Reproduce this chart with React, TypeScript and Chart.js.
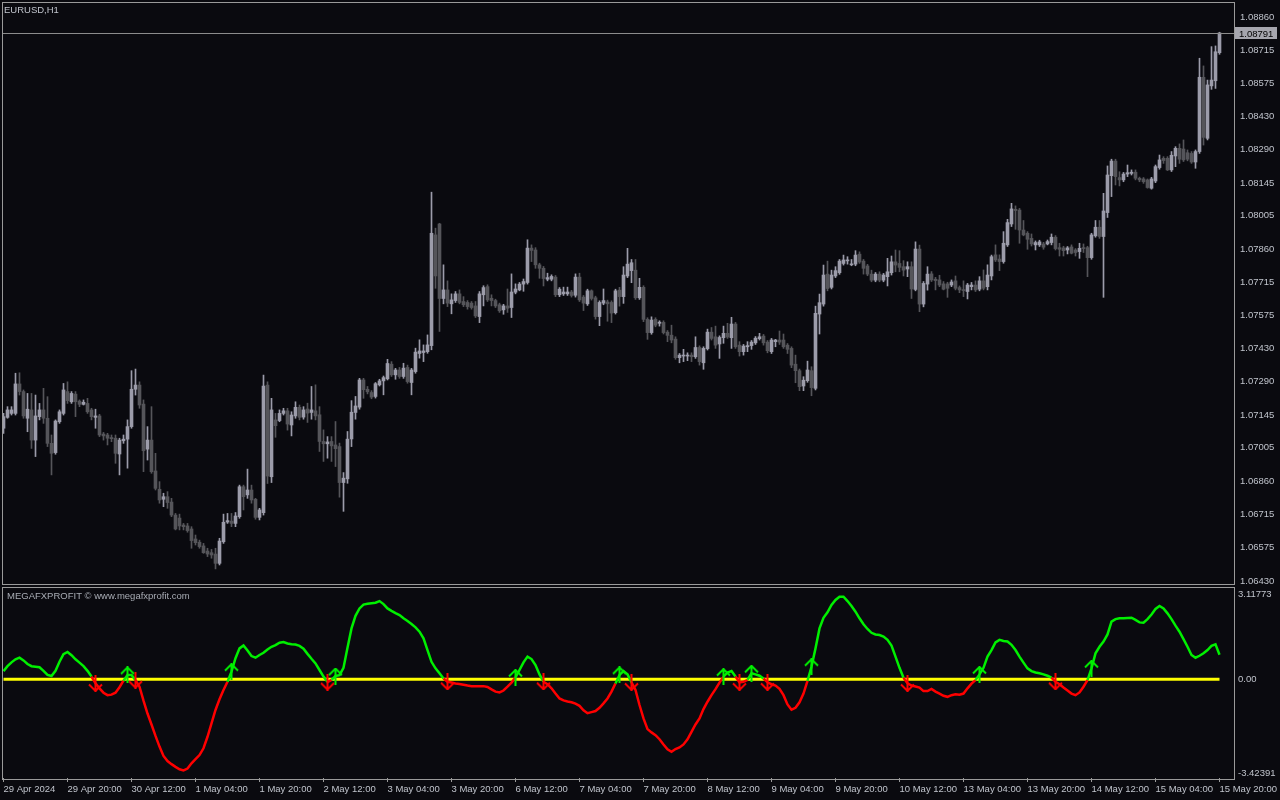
import React, { useEffect, useRef } from 'react';
import { Chart, registerables } from 'chart.js';

Chart.register(...registerables);

const BG = '#0a0a0f';
const FRAME = '#9a9a9a';
const TEXT = '#c0c4cc';
const TITLE2 = '#a8acb4';
const BULL = '#9c9caa';
const BEAR = '#55555a';
const OSC_UP = '#00f000';
const OSC_DOWN = '#ff0000';
const ZERO_COLOR = '#ffff00';
const FONT = '"Liberation Sans", Arial, sans-serif';

const symbolTitle = 'EURUSD,H1';
const indicatorTitle = 'MEGAFXPROFIT \u00a9 www.megafxprofit.com';

// ---- EURUSD H1 candles (bar 0 = 29 Apr 04:00 ... bar 304 = 15 May 20:00) ----
const openPrices = [
  1.07088, 1.07135, 1.07152, 1.07152, 1.07279, 1.07246, 1.07131, 1.07167, 1.07037, 1.07138,
  1.07167, 1.07131, 1.07023, 1.06983, 1.07116, 1.07152, 1.07246, 1.07202, 1.07235, 1.07205,
  1.07191, 1.07195, 1.07167, 1.07135, 1.07141, 1.07063, 1.07059, 1.07048, 1.07045, 1.06977,
  1.07034, 1.07041, 1.07095, 1.07256, 1.07274, 1.07192, 1.06998, 1.07037, 1.06904, 1.06825,
  1.06782, 1.06793, 1.06770, 1.06714, 1.06701, 1.06671, 1.06667, 1.06654, 1.06611, 1.06597,
  1.06581, 1.06559, 1.06552, 1.06546, 1.06506, 1.06599, 1.06684, 1.06688, 1.06678, 1.06707,
  1.06836, 1.06801, 1.06822, 1.06782, 1.06704, 1.06724, 1.07274, 1.06879, 1.07124, 1.07121,
  1.07152, 1.07163, 1.07102, 1.07141, 1.07178, 1.07136, 1.07171, 1.07156, 1.07163, 1.07146,
  1.07031, 1.07021, 1.07031, 1.07016, 1.07009, 1.06854, 1.06870, 1.07042, 1.07156, 1.07179,
  1.07296, 1.07256, 1.07242, 1.07225, 1.07275, 1.07292, 1.07301, 1.07364, 1.07318, 1.07339,
  1.07311, 1.07350, 1.07285, 1.07332, 1.07410, 1.07414, 1.07418, 1.07444, 1.07921, 1.07968,
  1.07647, 1.07684, 1.07624, 1.07638, 1.07667, 1.07634, 1.07630, 1.07627, 1.07615, 1.07569,
  1.07663, 1.07698, 1.07648, 1.07638, 1.07620, 1.07598, 1.07615, 1.07608, 1.07674, 1.07684,
  1.07709, 1.07716, 1.07864, 1.07856, 1.07792, 1.07777, 1.07730, 1.07730, 1.07739, 1.07663,
  1.07667, 1.07667, 1.07675, 1.07661, 1.07739, 1.07653, 1.07624, 1.07680, 1.07650, 1.07569,
  1.07627, 1.07632, 1.07630, 1.07586, 1.07683, 1.07655, 1.07744, 1.07767, 1.07769, 1.07650,
  1.07695, 1.07557, 1.07500, 1.07557, 1.07540, 1.07544, 1.07502, 1.07489, 1.07472, 1.07392,
  1.07399, 1.07399, 1.07403, 1.07396, 1.07436, 1.07370, 1.07431, 1.07502, 1.07482, 1.07451,
  1.07478, 1.07497, 1.07478, 1.07537, 1.07446, 1.07418, 1.07439, 1.07444, 1.07456, 1.07474,
  1.07485, 1.07459, 1.07418, 1.07461, 1.07468, 1.07468, 1.07446, 1.07432, 1.07364, 1.07336,
  1.07270, 1.07293, 1.07336, 1.07260, 1.07580, 1.07623, 1.07752, 1.07695, 1.07744, 1.07758,
  1.07798, 1.07809, 1.07792, 1.07795, 1.07838, 1.07808, 1.07787, 1.07752, 1.07726, 1.07752,
  1.07726, 1.07741, 1.07758, 1.07805, 1.07798, 1.07784, 1.07774, 1.07784, 1.07686, 1.07860,
  1.07623, 1.07709, 1.07753, 1.07730, 1.07727, 1.07710, 1.07710, 1.07705, 1.07723, 1.07694,
  1.07684, 1.07677, 1.07698, 1.07705, 1.07687, 1.07723, 1.07698, 1.07744, 1.07835, 1.07817,
  1.07806, 1.07878, 1.07968, 1.08031, 1.08028, 1.07942, 1.07928, 1.07906, 1.07878, 1.07878,
  1.07882, 1.07882, 1.07888, 1.07911, 1.07866, 1.07865, 1.07856, 1.07869, 1.07856, 1.07849,
  1.07866, 1.07866, 1.07823, 1.07917, 1.07954, 1.07914, 1.08017, 1.08176, 1.08239, 1.08168,
  1.08158, 1.08183, 1.08186, 1.08191, 1.08165, 1.08162, 1.08158, 1.08122, 1.08153, 1.08211,
  1.08251, 1.08251, 1.08201, 1.08261, 1.08294, 1.08291, 1.08275, 1.08272, 1.08235, 1.08280,
  1.08600, 1.08337, 1.08563, 1.08585, 1.08706,
];

const highPrices = [
  1.07152, 1.07181, 1.07181, 1.07325, 1.07327, 1.07253, 1.07238, 1.07238, 1.07231, 1.07195,
  1.07260, 1.07224, 1.07059, 1.07124, 1.07167, 1.07281, 1.07288, 1.07246, 1.07246, 1.07210,
  1.07210, 1.07217, 1.07174, 1.07170, 1.07148, 1.07070, 1.07066, 1.07059, 1.07059, 1.07045,
  1.07059, 1.07124, 1.07336, 1.07343, 1.07288, 1.07210, 1.07095, 1.07181, 1.06980, 1.06858,
  1.06808, 1.06815, 1.06786, 1.06721, 1.06718, 1.06678, 1.06678, 1.06664, 1.06628, 1.06606,
  1.06592, 1.06571, 1.06566, 1.06571, 1.06614, 1.06718, 1.06721, 1.06721, 1.06725, 1.06843,
  1.06843, 1.06912, 1.06843, 1.06786, 1.06743, 1.07317, 1.07288, 1.07217, 1.07152, 1.07167,
  1.07174, 1.07174, 1.07159, 1.07202, 1.07188, 1.07181, 1.07196, 1.07268, 1.07275, 1.07181,
  1.07081, 1.07052, 1.07052, 1.07117, 1.07024, 1.06897, 1.07074, 1.07207, 1.07225, 1.07303,
  1.07303, 1.07268, 1.07250, 1.07285, 1.07299, 1.07313, 1.07385, 1.07375, 1.07346, 1.07350,
  1.07368, 1.07360, 1.07346, 1.07433, 1.07469, 1.07447, 1.07490, 1.08105, 1.07950, 1.07971,
  1.07792, 1.07723, 1.07667, 1.07677, 1.07684, 1.07655, 1.07638, 1.07634, 1.07634, 1.07677,
  1.07702, 1.07706, 1.07663, 1.07644, 1.07627, 1.07622, 1.07688, 1.07753, 1.07710, 1.07716,
  1.07731, 1.07900, 1.07878, 1.07866, 1.07799, 1.07785, 1.07756, 1.07749, 1.07746, 1.07694,
  1.07696, 1.07696, 1.07682, 1.07753, 1.07756, 1.07660, 1.07687, 1.07684, 1.07657, 1.07637,
  1.07688, 1.07640, 1.07637, 1.07687, 1.07695, 1.07784, 1.07863, 1.07815, 1.07815, 1.07734,
  1.07702, 1.07564, 1.07568, 1.07564, 1.07551, 1.07551, 1.07509, 1.07532, 1.07482, 1.07410,
  1.07428, 1.07413, 1.07413, 1.07482, 1.07443, 1.07439, 1.07515, 1.07522, 1.07528, 1.07486,
  1.07528, 1.07540, 1.07566, 1.07544, 1.07461, 1.07449, 1.07461, 1.07466, 1.07483, 1.07497,
  1.07492, 1.07466, 1.07475, 1.07471, 1.07507, 1.07494, 1.07453, 1.07439, 1.07403, 1.07343,
  1.07310, 1.07377, 1.07353, 1.07614, 1.07666, 1.07791, 1.07808, 1.07769, 1.07784, 1.07815,
  1.07834, 1.07827, 1.07815, 1.07853, 1.07848, 1.07815, 1.07794, 1.07769, 1.07759, 1.07762,
  1.07755, 1.07820, 1.07830, 1.07856, 1.07853, 1.07810, 1.07805, 1.07805, 1.07891, 1.07877,
  1.07720, 1.07784, 1.07763, 1.07738, 1.07747, 1.07720, 1.07717, 1.07727, 1.07744, 1.07701,
  1.07723, 1.07712, 1.07716, 1.07723, 1.07741, 1.07770, 1.07792, 1.07834, 1.07878, 1.07835,
  1.07935, 1.07988, 1.08057, 1.08046, 1.08035, 1.07983, 1.07935, 1.07925, 1.07895, 1.07898,
  1.07889, 1.07899, 1.07925, 1.07918, 1.07885, 1.07872, 1.07871, 1.07878, 1.07862, 1.07885,
  1.07882, 1.07872, 1.07928, 1.07983, 1.07983, 1.08100, 1.08218, 1.08247, 1.08247, 1.08193,
  1.08190, 1.08222, 1.08201, 1.08201, 1.08170, 1.08168, 1.08162, 1.08169, 1.08222, 1.08265,
  1.08258, 1.08258, 1.08280, 1.08301, 1.08313, 1.08330, 1.08287, 1.08280, 1.08287, 1.08682,
  1.08649, 1.08588, 1.08732, 1.08735, 1.08794,
];

const lowPrices = [
  1.07066, 1.07131, 1.07145, 1.07145, 1.07231, 1.07131, 1.07073, 1.07001, 1.06966, 1.07124,
  1.07109, 1.07009, 1.06887, 1.06976, 1.07109, 1.07145, 1.07195, 1.07195, 1.07138, 1.07181,
  1.07188, 1.07152, 1.07124, 1.07088, 1.07052, 1.07037, 1.07016, 1.07030, 1.06937, 1.06887,
  1.07023, 1.06916, 1.07088, 1.07231, 1.07174, 1.06901, 1.06951, 1.06894, 1.06822, 1.06765,
  1.06750, 1.06743, 1.06707, 1.06650, 1.06650, 1.06650, 1.06640, 1.06571, 1.06585, 1.06571,
  1.06549, 1.06535, 1.06528, 1.06482, 1.06499, 1.06592, 1.06678, 1.06664, 1.06664, 1.06700,
  1.06736, 1.06786, 1.06765, 1.06696, 1.06693, 1.06714, 1.06850, 1.06854, 1.07049, 1.07116,
  1.07145, 1.07080, 1.07055, 1.07131, 1.07124, 1.07127, 1.07113, 1.07127, 1.07124, 1.06988,
  1.06945, 1.06959, 1.06945, 1.06923, 1.06791, 1.06730, 1.06851, 1.07009, 1.07127, 1.07170,
  1.07217, 1.07236, 1.07215, 1.07218, 1.07270, 1.07232, 1.07296, 1.07311, 1.07299, 1.07303,
  1.07303, 1.07282, 1.07232, 1.07325, 1.07390, 1.07375, 1.07411, 1.07426, 1.07691, 1.07505,
  1.07624, 1.07612, 1.07581, 1.07630, 1.07624, 1.07612, 1.07601, 1.07601, 1.07565, 1.07543,
  1.07615, 1.07634, 1.07615, 1.07608, 1.07587, 1.07579, 1.07587, 1.07565, 1.07667, 1.07680,
  1.07678, 1.07709, 1.07806, 1.07777, 1.07734, 1.07701, 1.07723, 1.07723, 1.07655, 1.07655,
  1.07660, 1.07660, 1.07653, 1.07653, 1.07634, 1.07595, 1.07617, 1.07640, 1.07558, 1.07530,
  1.07620, 1.07549, 1.07543, 1.07580, 1.07614, 1.07626, 1.07737, 1.07715, 1.07643, 1.07643,
  1.07547, 1.07471, 1.07493, 1.07525, 1.07528, 1.07494, 1.07461, 1.07456, 1.07385, 1.07370,
  1.07375, 1.07379, 1.07375, 1.07389, 1.07360, 1.07342, 1.07425, 1.07468, 1.07432, 1.07389,
  1.07454, 1.07475, 1.07432, 1.07432, 1.07399, 1.07403, 1.07418, 1.07428, 1.07449, 1.07468,
  1.07446, 1.07413, 1.07410, 1.07439, 1.07449, 1.07432, 1.07410, 1.07349, 1.07284, 1.07250,
  1.07250, 1.07286, 1.07228, 1.07253, 1.07494, 1.07614, 1.07680, 1.07688, 1.07737, 1.07751,
  1.07791, 1.07795, 1.07788, 1.07788, 1.07798, 1.07752, 1.07745, 1.07719, 1.07719, 1.07719,
  1.07719, 1.07701, 1.07748, 1.07762, 1.07762, 1.07744, 1.07741, 1.07647, 1.07680, 1.07590,
  1.07611, 1.07683, 1.07720, 1.07684, 1.07698, 1.07684, 1.07652, 1.07698, 1.07684, 1.07672,
  1.07655, 1.07645, 1.07684, 1.07677, 1.07680, 1.07684, 1.07684, 1.07727, 1.07806, 1.07767,
  1.07799, 1.07871, 1.07957, 1.07945, 1.07885, 1.07917, 1.07859, 1.07873, 1.07856, 1.07871,
  1.07859, 1.07878, 1.07878, 1.07856, 1.07830, 1.07830, 1.07839, 1.07839, 1.07830, 1.07820,
  1.07845, 1.07741, 1.07816, 1.07911, 1.07906, 1.07652, 1.07996, 1.08086, 1.08136, 1.08132,
  1.08150, 1.08172, 1.08179, 1.08158, 1.08150, 1.08143, 1.08122, 1.08118, 1.08146, 1.08204,
  1.08229, 1.08198, 1.08194, 1.08215, 1.08229, 1.08237, 1.08240, 1.08229, 1.08208, 1.08272,
  1.08308, 1.08330, 1.08548, 1.08552, 1.08699,
];

const closePrices = [
  1.07138, 1.07167, 1.07167, 1.07279, 1.07246, 1.07141, 1.07170, 1.07037, 1.07141, 1.07167,
  1.07131, 1.07023, 1.06980, 1.07119, 1.07159, 1.07253, 1.07207, 1.07238, 1.07202, 1.07191,
  1.07200, 1.07159, 1.07138, 1.07141, 1.07059, 1.07055, 1.07045, 1.07043, 1.06980, 1.07037,
  1.07041, 1.07095, 1.07256, 1.07274, 1.07188, 1.06991, 1.07037, 1.06901, 1.06829, 1.06779,
  1.06793, 1.06768, 1.06714, 1.06654, 1.06667, 1.06664, 1.06647, 1.06604, 1.06595, 1.06578,
  1.06552, 1.06546, 1.06542, 1.06506, 1.06602, 1.06683, 1.06690, 1.06678, 1.06710, 1.06836,
  1.06793, 1.06822, 1.06779, 1.06704, 1.06736, 1.07270, 1.06882, 1.07167, 1.07099, 1.07152,
  1.07163, 1.07106, 1.07145, 1.07178, 1.07135, 1.07167, 1.07153, 1.07167, 1.07141, 1.07031,
  1.07021, 1.07029, 1.07012, 1.07000, 1.06854, 1.06873, 1.07041, 1.07157, 1.07184, 1.07296,
  1.07254, 1.07245, 1.07222, 1.07280, 1.07292, 1.07306, 1.07367, 1.07318, 1.07339, 1.07311,
  1.07347, 1.07289, 1.07339, 1.07416, 1.07421, 1.07421, 1.07447, 1.07928, 1.07744, 1.07647,
  1.07684, 1.07627, 1.07641, 1.07667, 1.07630, 1.07620, 1.07612, 1.07608, 1.07572, 1.07667,
  1.07694, 1.07641, 1.07638, 1.07615, 1.07594, 1.07615, 1.07605, 1.07675, 1.07688, 1.07709,
  1.07720, 1.07864, 1.07854, 1.07792, 1.07777, 1.07733, 1.07737, 1.07742, 1.07663, 1.07687,
  1.07675, 1.07675, 1.07660, 1.07739, 1.07641, 1.07627, 1.07680, 1.07647, 1.07569, 1.07630,
  1.07638, 1.07624, 1.07584, 1.07680, 1.07655, 1.07748, 1.07795, 1.07801, 1.07650, 1.07695,
  1.07557, 1.07500, 1.07554, 1.07532, 1.07545, 1.07500, 1.07488, 1.07468, 1.07392, 1.07403,
  1.07403, 1.07403, 1.07396, 1.07436, 1.07375, 1.07432, 1.07502, 1.07475, 1.07446, 1.07479,
  1.07497, 1.07481, 1.07537, 1.07439, 1.07418, 1.07442, 1.07444, 1.07459, 1.07476, 1.07482,
  1.07456, 1.07422, 1.07468, 1.07468, 1.07459, 1.07439, 1.07428, 1.07360, 1.07336, 1.07267,
  1.07295, 1.07339, 1.07263, 1.07583, 1.07629, 1.07748, 1.07690, 1.07748, 1.07767, 1.07808,
  1.07813, 1.07813, 1.07795, 1.07834, 1.07804, 1.07777, 1.07752, 1.07726, 1.07752, 1.07726,
  1.07748, 1.07762, 1.07805, 1.07791, 1.07781, 1.07769, 1.07784, 1.07688, 1.07860, 1.07623,
  1.07712, 1.07752, 1.07727, 1.07724, 1.07705, 1.07687, 1.07691, 1.07718, 1.07691, 1.07684,
  1.07681, 1.07705, 1.07705, 1.07684, 1.07723, 1.07691, 1.07748, 1.07827, 1.07813, 1.07806,
  1.07885, 1.07974, 1.08033, 1.08026, 1.07942, 1.07921, 1.07902, 1.07882, 1.07888, 1.07891,
  1.07868, 1.07892, 1.07911, 1.07862, 1.07859, 1.07853, 1.07865, 1.07842, 1.07845, 1.07863,
  1.07862, 1.07823, 1.07921, 1.07954, 1.07914, 1.08024, 1.08179, 1.08239, 1.08172, 1.08158,
  1.08183, 1.08189, 1.08191, 1.08165, 1.08158, 1.08150, 1.08125, 1.08162, 1.08215, 1.08244,
  1.08241, 1.08201, 1.08264, 1.08294, 1.08247, 1.08244, 1.08247, 1.08235, 1.08280, 1.08600,
  1.08341, 1.08567, 1.08588, 1.08710, 1.08791,
];

// ---- MEGAFXPROFIT oscillator values per bar ----
const oscValues = [
  0.30, 0.48, 0.62, 0.73, 0.79, 0.69, 0.56, 0.48, 0.46, 0.44,
  0.31, 0.16, 0.12, 0.31, 0.64, 0.92, 1.00, 0.88, 0.73, 0.61,
  0.48, 0.31, 0.10, -0.15, -0.33, -0.49, -0.58, -0.56, -0.49, -0.29,
  -0.05, 0.16, 0.16, -0.03, -0.27, -0.78, -1.25, -1.65, -2.07, -2.46,
  -2.80, -2.99, -3.10, -3.20, -3.29, -3.33, -3.26, -3.07, -2.92, -2.77,
  -2.52, -2.10, -1.61, -1.12, -0.73, -0.39, -0.09, 0.28, 0.77, 1.13,
  1.24, 1.05, 0.85, 0.79, 0.89, 0.97, 1.09, 1.19, 1.25, 1.34,
  1.36, 1.31, 1.28, 1.27, 1.22, 1.12, 0.93, 0.75, 0.58, 0.34,
  0.10, -0.10, -0.02, 0.12, 0.15, 0.42, 1.15, 1.86, 2.32, 2.59,
  2.73, 2.76, 2.78, 2.80, 2.86, 2.75, 2.59, 2.50, 2.42, 2.35,
  2.23, 2.13, 2.02, 1.90, 1.74, 1.50, 1.07, 0.64, 0.40, 0.22,
  0.03, -0.09, -0.12, -0.15, -0.17, -0.20, -0.23, -0.25, -0.25, -0.25,
  -0.25, -0.28, -0.37, -0.45, -0.48, -0.41, -0.27, -0.12, 0.07, 0.34,
  0.62, 0.83, 0.74, 0.52, 0.18, -0.09, -0.18, -0.33, -0.52, -0.70,
  -0.77, -0.81, -0.84, -0.89, -0.97, -1.13, -1.24, -1.20, -1.16, -1.04,
  -0.88, -0.70, -0.45, -0.15, 0.16, 0.30, 0.18, -0.11, -0.39, -0.94,
  -1.43, -1.82, -1.94, -2.04, -2.19, -2.38, -2.56, -2.65, -2.55, -2.49,
  -2.38, -2.19, -1.92, -1.65, -1.43, -1.09, -0.82, -0.58, -0.36, -0.12,
  0.10, 0.25, 0.30, 0.10, -0.11, -0.09, -0.02, 0.22, 0.18, 0.13,
  0.03, -0.11, -0.18, -0.23, -0.35, -0.58, -0.92, -1.11, -1.04, -0.84,
  -0.52, -0.06, 0.46, 1.13, 1.86, 2.25, 2.45, 2.72, 2.90, 3.02,
  3.02, 2.86, 2.68, 2.47, 2.23, 2.01, 1.84, 1.70, 1.64, 1.62,
  1.56, 1.44, 1.23, 0.83, 0.42, 0.06, -0.15, -0.23, -0.26, -0.30,
  -0.43, -0.43, -0.35, -0.45, -0.52, -0.60, -0.64, -0.58, -0.55, -0.56,
  -0.52, -0.33, -0.16, -0.03, 0.18, 0.42, 0.83, 1.07, 1.35, 1.44,
  1.40, 1.38, 1.26, 1.07, 0.83, 0.61, 0.40, 0.30, 0.25, 0.22,
  0.18, 0.13, 0.06, -0.09, -0.18, -0.30, -0.41, -0.52, -0.58, -0.48,
  -0.27, -0.03, 0.40, 0.95, 1.19, 1.38, 1.64, 2.11, 2.20, 2.23,
  2.23, 2.24, 2.25, 2.17, 2.08, 2.07, 2.20, 2.37, 2.57, 2.68,
  2.59, 2.41, 2.20, 1.96, 1.74, 1.47, 1.19, 0.89, 0.79, 0.86,
  0.95, 1.07, 1.22, 1.28, 0.90,
];
const zeroLevel = 0;

const upArrowBars = [31, 57, 83, 128, 154, 180, 187, 202, 244, 272];
const downArrowBars = [23, 33, 81, 111, 135, 157, 184, 191, 226, 263];

// ---- axes ----
const priceTickValues = [
  1.0886, 1.08715, 1.08575, 1.0843, 1.0829, 1.08145, 1.08005, 1.0786, 1.07715,
  1.07575, 1.0743, 1.0729, 1.07145, 1.07005, 1.0686, 1.06715, 1.06575, 1.0643,
];
const priceTickLabels = [
  '1.08860', '1.08715', '1.08575', '1.08430', '1.08290', '1.08145', '1.08005', '1.07860', '1.07715',
  '1.07575', '1.07430', '1.07290', '1.07145', '1.07005', '1.06860', '1.06715', '1.06575', '1.06430',
];
const oscTickValues = [3.11773, 0, -3.42391];
const oscTickLabels = ['3.11773', '0.00', '-3.42391'];
const timeTickBars = [0, 16, 32, 48, 64, 80, 96, 112, 128, 144, 160, 176, 192, 208, 224, 240, 256, 272, 288, 304];
const timeTickLabels = [
  '29 Apr 2024', '29 Apr 20:00', '30 Apr 12:00', '1 May 04:00', '1 May 20:00', '2 May 12:00',
  '3 May 04:00', '3 May 20:00', '6 May 12:00', '7 May 04:00', '7 May 20:00', '8 May 12:00',
  '9 May 04:00', '9 May 20:00', '10 May 12:00', '13 May 04:00', '13 May 20:00', '14 May 12:00',
  '15 May 04:00', '15 May 20:00',
];

const priceMin = 1.06417;
const priceMax = 1.0892;
const oscMin = -3.607;
const oscMax = 3.337;
const barsMin = -0.125;
const barsMax = 307.625;

function makeArrow(color: string, up: boolean): HTMLCanvasElement {
  const c = document.createElement('canvas');
  c.width = 15;
  c.height = 17;
  const g = c.getContext('2d') as CanvasRenderingContext2D;
  g.strokeStyle = color;
  g.lineWidth = 2;
  g.beginPath();
  g.moveTo(7.5, 0);
  g.lineTo(7.5, 17);
  if (up) {
    g.moveTo(1, 7.5);
    g.lineTo(7.5, 1);
    g.lineTo(14, 7.5);
  } else {
    g.moveTo(1, 9.5);
    g.lineTo(7.5, 16);
    g.lineTo(14, 9.5);
  }
  g.stroke();
  return c;
}

export default function App() {
  const topRef = useRef<HTMLCanvasElement | null>(null);
  const botRef = useRef<HTMLCanvasElement | null>(null);

  useEffect(() => {
    const barIdx = closePrices.map((_, i) => i);
    const candleColor = (ctx: any) =>
      closePrices[ctx.dataIndex] >= openPrices[ctx.dataIndex] ? BULL : BEAR;
    const font = { family: FONT, size: 9.5 };

    const topPlugin = {
      id: 'mtTop',
      afterDatasetsDraw(chart: any) {
        const { ctx, scales } = chart;
        const last = closePrices.length - 1;
        const y = Math.round(scales.y.getPixelForValue(closePrices[last])) + 0.5;
        ctx.save();
        ctx.strokeStyle = '#8c8c8c';
        ctx.lineWidth = 1;
        ctx.beginPath();
        ctx.moveTo(3, y);
        ctx.lineTo(1235, y);
        ctx.stroke();
        ctx.fillStyle = '#a6a6ae';
        ctx.fillRect(1235, y - 6.5, 42, 12);
        ctx.fillStyle = '#000000';
        ctx.font = `9.5px ${FONT}`;
        ctx.textBaseline = 'middle';
        ctx.textAlign = 'left';
        ctx.fillText(closePrices[last].toFixed(5), 1239, y + 0.5);
        ctx.restore();
      },
      afterDraw(chart: any) {
        const { ctx } = chart;
        ctx.save();
        ctx.strokeStyle = FRAME;
        ctx.lineWidth = 1;
        ctx.strokeRect(2.5, 2.5, 1232, 582);
        ctx.fillStyle = TEXT;
        ctx.font = `9.5px ${FONT}`;
        ctx.textBaseline = 'middle';
        ctx.textAlign = 'left';
        ctx.fillText(symbolTitle, 4, 10);
        ctx.restore();
      },
    };

    const botPlugin = {
      id: 'mtBot',
      afterDraw(chart: any) {
        const { ctx } = chart;
        ctx.save();
        ctx.strokeStyle = FRAME;
        ctx.lineWidth = 1;
        ctx.strokeRect(2.5, 1.5, 1232, 192);
        ctx.fillStyle = TITLE2;
        ctx.font = `9.5px ${FONT}`;
        ctx.textBaseline = 'middle';
        ctx.textAlign = 'left';
        ctx.fillText(indicatorTitle, 7, 10);
        ctx.restore();
      },
    };

    const top = new Chart(topRef.current as HTMLCanvasElement, {
      type: 'bar',
      data: {
        datasets: [
          {
            label: 'bodies',
            data: barIdx.map((i) => ({ x: i, y: [openPrices[i], closePrices[i]] })) as any,
            backgroundColor: candleColor as any,
            barThickness: 3,
            minBarLength: 1,
            grouped: false,
            borderWidth: 0,
            order: 0,
          } as any,
          {
            label: 'wicks',
            data: barIdx.map((i) => ({ x: i, y: [lowPrices[i], highPrices[i]] })) as any,
            backgroundColor: candleColor as any,
            barThickness: 1,
            minBarLength: 1,
            grouped: false,
            borderWidth: 0,
            order: 1,
          } as any,
        ],
      },
      options: {
        responsive: false,
        animation: false,
        devicePixelRatio: 1,
        events: [],
        layout: { autoPadding: false, padding: { top: 3, left: 3, right: 0, bottom: 2 } },
        plugins: { legend: { display: false }, tooltip: { enabled: false } },
        scales: {
          x: { type: 'linear', display: false, min: barsMin, max: barsMax, offset: false },
          y: {
            type: 'linear',
            position: 'right',
            min: priceMin,
            max: priceMax,
            afterBuildTicks: (s: any) => {
              s.ticks = priceTickValues.map((v) => ({ value: v }));
            },
            afterFit: (s: any) => {
              s.width = 46;
              s.paddingTop = 0;
              s.paddingBottom = 0;
            },
            grid: { display: false, drawTicks: false },
            border: { display: false },
            ticks: {
              autoSkip: false,
              padding: 6,
              color: TEXT,
              font,
              callback: (_v: any, i: number) => priceTickLabels[i],
            },
          },
        },
      } as any,
      plugins: [topPlugin],
    });

    const upArrow = makeArrow(OSC_UP, true);
    const downArrow = makeArrow(OSC_DOWN, false);

    const bot = new Chart(botRef.current as HTMLCanvasElement, {
      type: 'line',
      data: {
        datasets: [
          {
            label: 'up',
            data: upArrowBars.map((i) => ({ x: i, y: oscValues[i] })),
            showLine: false,
            pointStyle: upArrow as any,
            pointRadius: 6,
            order: 0,
          },
          {
            label: 'down',
            data: downArrowBars.map((i) => ({ x: i, y: oscValues[i] })),
            showLine: false,
            pointStyle: downArrow as any,
            pointRadius: 6,
            order: 0,
          },
          {
            label: 'osc',
            data: barIdx.map((i) => ({ x: i, y: oscValues[i] })),
            borderColor: OSC_UP,
            borderWidth: 2.5,
            pointRadius: 0,
            tension: 0,
            segment: {
              borderColor: (c: any) =>
                (c.p0.parsed.y + c.p1.parsed.y) / 2 >= 0 ? OSC_UP : OSC_DOWN,
            },
            order: 1,
          },
          {
            label: 'zero',
            data: barIdx.map((i) => ({ x: i, y: zeroLevel })),
            borderColor: ZERO_COLOR,
            borderWidth: 3,
            pointRadius: 0,
            order: 2,
          },
        ] as any,
      },
      options: {
        responsive: false,
        animation: false,
        devicePixelRatio: 1,
        events: [],
        layout: { autoPadding: false, padding: { top: 2, left: 3, right: 0, bottom: 0 } },
        plugins: { legend: { display: false }, tooltip: { enabled: false } },
        scales: {
          x: {
            type: 'linear',
            position: 'bottom',
            min: barsMin,
            max: barsMax,
            offset: false,
            afterBuildTicks: (s: any) => {
              s.ticks = timeTickBars.map((v) => ({ value: v }));
            },
            afterFit: (s: any) => {
              s.height = 22;
              s.paddingLeft = 0;
              s.paddingRight = 0;
            },
            grid: { display: true, drawOnChartArea: false, drawTicks: true, tickLength: 4, color: FRAME },
            border: { display: false },
            ticks: {
              autoSkip: false,
              maxRotation: 0,
              minRotation: 0,
              align: 'start',
              padding: 2,
              color: TEXT,
              font,
              callback: (_v: any, i: number) => timeTickLabels[i],
            },
          },
          y: {
            type: 'linear',
            position: 'right',
            min: oscMin,
            max: oscMax,
            afterBuildTicks: (s: any) => {
              s.ticks = oscTickValues.map((v) => ({ value: v }));
            },
            afterFit: (s: any) => {
              s.width = 46;
              s.paddingTop = 0;
              s.paddingBottom = 0;
            },
            grid: { display: false, drawTicks: false },
            border: { display: false },
            ticks: {
              autoSkip: false,
              padding: 4,
              color: TEXT,
              font,
              callback: (_v: any, i: number) => oscTickLabels[i],
            },
          },
        },
      } as any,
      plugins: [botPlugin],
    });

    return () => {
      top.destroy();
      bot.destroy();
    };
  }, []);

  return (
    <div
      style={{
        position: 'fixed',
        left: 0,
        top: 0,
        width: 1280,
        height: 800,
        background: BG,
        overflow: 'hidden',
      }}
    >
      <canvas
        ref={topRef}
        width={1280}
        height={586}
        style={{ position: 'absolute', left: 0, top: 0, width: 1280, height: 586, display: 'block' }}
      />
      <canvas
        ref={botRef}
        width={1280}
        height={214}
        style={{ position: 'absolute', left: 0, top: 586, width: 1280, height: 214, display: 'block' }}
      />
    </div>
  );
}
